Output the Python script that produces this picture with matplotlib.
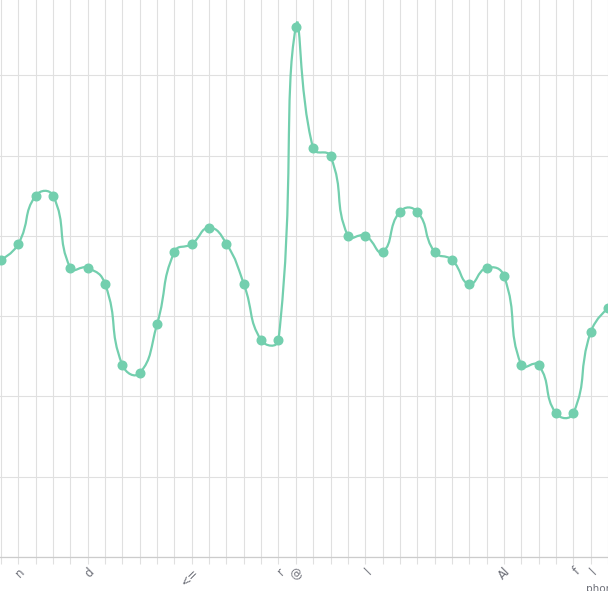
import numpy as np
import matplotlib
matplotlib.use("Agg")
import matplotlib.pyplot as plt
from matplotlib.path import Path
from matplotlib.patches import PathPatch

# ---- data ----
labels = ["", "n", "", "", "", "d", "", "", "", "", "", "<=", "", "", "", "",
          "r", "@", "", "", "", "l", "", "", "", "", "", "", "", "Al", "", "",
          "", "f", "l", ""]
values = [37.0, 39.0, 45.0, 45.0, 36.0, 36.0, 34.0, 23.9, 22.9, 29.0, 38.0, 39.0,
          41.0, 39.0, 34.0, 27.0, 27.0, 66.0, 50.9, 49.9, 40.0, 40.0, 38.0, 43.0,
          43.0, 38.0, 37.0, 34.0, 36.0, 35.0, 23.9, 23.9, 17.9, 17.9, 28.0, 31.0]
axis_name = "phoneme"

color = "#73cfae"
grid_c = "#e0e0e0"

W, H = 608, 591
fig = plt.figure(figsize=(W / 100, H / 100), dpi=100)
px_x = 17.36   # px per category
px_y = 8.03    # px per unit
x0 = 1.0
bottom = 557.0
ax = fig.add_axes([0, (H - bottom) / H, 1, bottom / H])
ax.set_xlim(-x0 / px_x, (W - x0) / px_x)
ax.set_ylim(0, bottom / px_y)

n = len(values)
xs = np.arange(n, dtype=float)
ys = np.array(values, dtype=float)

# ECharts-like smooth bezier (smooth = 0.5), computed in pixel space
P = np.column_stack([xs * px_x, ys * px_y])
smooth = 0.5
cp_prev = P.copy()
cp_next = P.copy()
for i in range(1, n - 1):
    v = P[i + 1] - P[i - 1]
    lp = np.hypot(*(P[i] - P[i - 1]))
    ln = np.hypot(*(P[i + 1] - P[i]))
    r = ln / (ln + lp)
    cp_next[i] = P[i] + v * smooth * r
    cp_prev[i] = P[i] - v * smooth * (1 - r)
verts = [P[0]]
codes = [Path.MOVETO]
for i in range(n - 1):
    verts += [cp_next[i], cp_prev[i + 1], P[i + 1]]
    codes += [Path.CURVE4] * 3
verts = np.array(verts) / np.array([px_x, px_y])
ax.add_patch(PathPatch(Path(verts, codes), fill=False, edgecolor=color, lw=1.6, zorder=3))
ax.plot(xs, ys, "o", color=color, ms=6.2, mec=color, zorder=4, clip_on=True)

# grid
ax.set_xticks(xs)
ax.set_yticks(np.arange(0, 70, 10))
ax.grid(True, color=grid_c, lw=0.8, zorder=0)
ax.set_axisbelow(True)
for s in ["top", "right", "left"]:
    ax.spines[s].set_visible(False)
ax.spines["bottom"].set_color("#cccccc")
ax.spines["bottom"].set_linewidth(0.9)
ax.tick_params(axis="y", left=False, labelleft=False)
ax.tick_params(axis="x", length=5, color=grid_c, width=0.8, pad=1,
               labelsize=8.5, labelcolor="#6e7079")
ax.set_xticklabels(labels, rotation=45, ha="right", va="top", rotation_mode="anchor")
for t in ax.get_xticklabels():
    t.set_x(t.get_position()[0])

fig.text(586 / W, 1 - 589 / H, axis_name, fontsize=7.5, color="#6e7079",
         ha="left", va="center")

fig.savefig("out.png", dpi=100)
